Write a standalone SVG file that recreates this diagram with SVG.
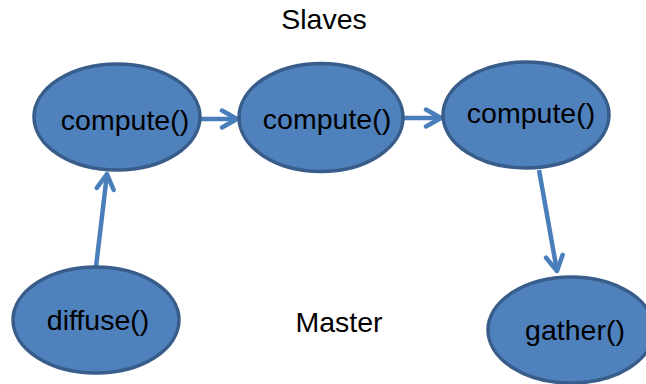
<svg xmlns="http://www.w3.org/2000/svg" width="646" height="384" viewBox="0 0 646 384">
<style>
.n{fill:#4f81bd;stroke:#385d8a;stroke-width:3.5}
.t{font-family:"Liberation Sans",Arial,sans-serif;font-size:28.5px;fill:#000;text-anchor:middle}
.c{stroke:#4a7ebb;stroke-width:4.5;fill:none}
</style>
<defs>
<marker id="ah" viewBox="0 0 12 12" refX="10" refY="6" markerWidth="5" markerHeight="5" markerUnits="strokeWidth" orient="auto">
<path d="M2,1.5 L10,6 L2,10.5" fill="none" stroke="#4a7ebb" stroke-width="2.4" stroke-linecap="round" stroke-linejoin="round"/>
</marker>
</defs>
<rect width="646" height="384" fill="#fff"/>
<text class="t" x="324" y="29">Slaves</text>
<text class="t" x="339" y="332">Master</text>
<g id="connectors">
<line class="c" x1="201" y1="119" x2="237" y2="119" marker-end="url(#ah)"/>
<line class="c" x1="403" y1="118" x2="441" y2="118" marker-end="url(#ah)"/>
<line class="c" x1="539" y1="170" x2="557" y2="271" marker-end="url(#ah)"/>
<line class="c" x1="96" y1="267" x2="107" y2="174" marker-end="url(#ah)"/>
</g>
<g id="compute1"><ellipse class="n" cx="117" cy="117" rx="83" ry="53"/><text class="t" x="125" y="130">compute()</text></g>
<g id="compute2"><ellipse class="n" cx="321" cy="117.5" rx="82" ry="54"/><text class="t" x="327" y="129">compute()</text></g>
<g id="compute3"><ellipse class="n" cx="526" cy="115" rx="83" ry="53"/><text class="t" x="531" y="123">compute()</text></g>
<g id="diffuse"><ellipse class="n" cx="96" cy="320" rx="83" ry="53"/><text class="t" x="98" y="330">diffuse()</text></g>
<g id="gather"><ellipse class="n" cx="571" cy="330" rx="83" ry="53"/><text class="t" x="575" y="340">gather()</text></g>
</svg>
